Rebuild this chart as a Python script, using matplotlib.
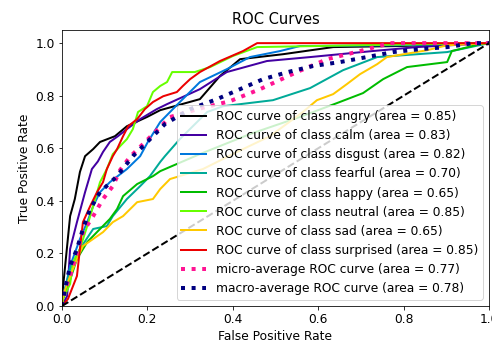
import matplotlib
matplotlib.use("Agg")
import matplotlib.pyplot as plt

# class names and AUCs as shown in the legend
classes = ["angry", "calm", "disgust", "fearful", "happy", "neutral", "sad", "surprised"]
aucs = [0.85, 0.83, 0.82, 0.70, 0.65, 0.85, 0.65, 0.85]
micro_auc = 0.77
macro_auc = 0.78

# curves (fpr, tpr)
angry_fpr = [0, 0.002, 0.019, 0.030, 0.042, 0.054, 0.073, 0.089, 0.124, 0.152, 0.199, 0.23, 0.323, 0.37, 0.417, 0.518, 0.635, 0.79, 1.0]
angry_tpr = [0, 0.065, 0.342, 0.407, 0.51, 0.57, 0.597, 0.624, 0.646, 0.684, 0.719, 0.745, 0.787, 0.875, 0.939, 0.958, 0.985, 0.989, 1.0]

calm_fpr = [0, 0.012, 0.019, 0.035, 0.054, 0.07, 0.084, 0.096, 0.112, 0.131, 0.152, 0.183, 0.222, 0.246, 0.323, 0.386, 0.48, 0.581, 0.651, 0.728, 0.831, 1.0]
calm_tpr = [0, 0.038, 0.217, 0.319, 0.433, 0.521, 0.55, 0.586, 0.624, 0.646, 0.673, 0.711, 0.749, 0.768, 0.825, 0.89, 0.932, 0.947, 0.958, 0.97, 0.985, 1.0]

disgust_fpr = [0, 0.007, 0.019, 0.042, 0.059, 0.073, 0.089, 0.112, 0.152, 0.183, 0.201, 0.23, 0.276, 0.323, 0.386, 0.44, 0.511, 0.557, 0.79, 1.0]
disgust_tpr = [0, 0.065, 0.152, 0.255, 0.319, 0.38, 0.433, 0.471, 0.521, 0.570, 0.624, 0.70, 0.776, 0.852, 0.901, 0.947, 0.970, 0.989, 0.992, 1.0]

fearful_fpr = [0, 0.002, 0.019, 0.042, 0.073, 0.105, 0.119, 0.152, 0.183, 0.206, 0.23, 0.241, 0.276, 0.34, 0.377, 0.494, 0.581, 0.658, 0.738, 0.902, 1.0]
fearful_tpr = [0, 0.027, 0.14, 0.217, 0.293, 0.304, 0.342, 0.407, 0.456, 0.494, 0.548, 0.570, 0.635, 0.738, 0.76, 0.783, 0.829, 0.897, 0.947, 0.966, 1.0]

happy_fpr = [0, 0.002, 0.012, 0.035, 0.059, 0.089, 0.112, 0.129, 0.143, 0.176, 0.213, 0.23, 0.323, 0.44, 0.557, 0.644, 0.705, 0.752, 0.808, 0.902, 0.913, 0.979, 1.0]
happy_tpr = [0, 0.027, 0.065, 0.179, 0.243, 0.293, 0.331, 0.369, 0.418, 0.464, 0.494, 0.513, 0.578, 0.654, 0.719, 0.772, 0.81, 0.863, 0.909, 0.928, 0.97, 0.996, 1.0]

neutral_fpr = [0, 0.002, 0.019, 0.026, 0.042, 0.059, 0.073, 0.089, 0.105, 0.119, 0.136, 0.152, 0.166, 0.178, 0.199, 0.213, 0.23, 0.246, 0.258, 0.311, 0.347, 0.40, 0.457, 0.698, 1.0]
neutral_tpr = [0, 0.027, 0.084, 0.167, 0.217, 0.304, 0.38, 0.471, 0.521, 0.578, 0.608, 0.635, 0.673, 0.738, 0.76, 0.814, 0.837, 0.852, 0.89, 0.89, 0.909, 0.951, 0.985, 0.992, 1.0]

sad_fpr = [0, 0.002, 0.019, 0.035, 0.049, 0.073, 0.096, 0.119, 0.143, 0.176, 0.213, 0.23, 0.253, 0.33, 0.41, 0.487, 0.564, 0.597, 0.635, 0.667, 0.698, 0.738, 0.761, 0.855, 0.902, 1.0]
sad_tpr = [0, 0.038, 0.114, 0.179, 0.228, 0.255, 0.281, 0.319, 0.342, 0.395, 0.407, 0.445, 0.483, 0.521, 0.586, 0.646, 0.738, 0.783, 0.806, 0.844, 0.882, 0.92, 0.947, 0.973, 0.992, 1.0]

surprised_fpr = [0, 0.014, 0.035, 0.042, 0.049, 0.066, 0.082, 0.096, 0.105, 0.119, 0.129, 0.143, 0.155, 0.176, 0.194, 0.213, 0.237, 0.269, 0.283, 0.30, 0.323, 0.37, 0.424, 0.457, 1.0]
surprised_tpr = [0, 0.027, 0.114, 0.217, 0.319, 0.38, 0.433, 0.471, 0.521, 0.570, 0.597, 0.646, 0.684, 0.711, 0.749, 0.776, 0.798, 0.814, 0.837, 0.863, 0.89, 0.932, 0.970, 1.0, 1.0]

micro_fpr = [0, 0.002, 0.019, 0.035, 0.049, 0.073, 0.096, 0.119, 0.136, 0.159, 0.199, 0.23, 0.253, 0.32, 0.393, 0.464, 0.55, 0.621, 0.698, 0.768, 1.0]
micro_tpr = [0, 0.038, 0.114, 0.205, 0.281, 0.342, 0.407, 0.456, 0.517, 0.567, 0.631, 0.681, 0.719, 0.75, 0.779, 0.825, 0.89, 0.939, 0.97, 1.0, 1.0]

macro_fpr = [0, 0.007, 0.019, 0.035, 0.049, 0.066, 0.089, 0.129, 0.166, 0.19, 0.213, 0.241, 0.30, 0.363, 0.417, 0.471, 0.529, 0.588, 0.651, 0.714, 0.775, 0.838, 0.902, 0.963, 1.0]
macro_tpr = [0, 0.065, 0.152, 0.217, 0.293, 0.369, 0.433, 0.494, 0.570, 0.608, 0.646, 0.692, 0.749, 0.787, 0.825, 0.863, 0.89, 0.913, 0.928, 0.947, 0.966, 0.977, 0.985, 1.0, 1.0]

curves = [
    (angry_fpr, angry_tpr), (calm_fpr, calm_tpr), (disgust_fpr, disgust_tpr),
    (fearful_fpr, fearful_tpr), (happy_fpr, happy_tpr), (neutral_fpr, neutral_tpr),
    (sad_fpr, sad_tpr), (surprised_fpr, surprised_tpr),
]

plt.rcParams["font.size"] = 12.2

fig = plt.figure(figsize=(492 / 72, 344 / 72), dpi=72)
ax = fig.add_axes([62 / 492, 38 / 344, 427 / 492, 276 / 344])

cmap = plt.get_cmap("nipy_spectral")
for i, (name, (fpr, tpr)) in enumerate(zip(classes, curves)):
    ax.plot(fpr, tpr, lw=2, color=cmap(i / len(classes)),
            label="ROC curve of class {0} (area = {1:0.2f})".format(name, aucs[i]))

ax.plot(micro_fpr, micro_tpr, label="micro-average ROC curve (area = {0:0.2f})".format(micro_auc),
        color="deeppink", linestyle=":", linewidth=4)
ax.plot(macro_fpr, macro_tpr, label="macro-average ROC curve (area = {0:0.2f})".format(macro_auc),
        color="navy", linestyle=":", linewidth=4)

ax.plot([0, 1], [0, 1], "k--", lw=2)
ax.set_xlim([0.0, 1.0])
ax.set_ylim([0.0, 1.05])
ax.set_title("ROC Curves", fontsize="large")
ax.set_xlabel("False Positive Rate", fontsize="medium")
ax.set_ylabel("True Positive Rate", fontsize="medium")
ax.tick_params(labelsize="medium")
ax.legend(loc="lower right", fontsize="medium")

fig.savefig("out.png", dpi=72)
